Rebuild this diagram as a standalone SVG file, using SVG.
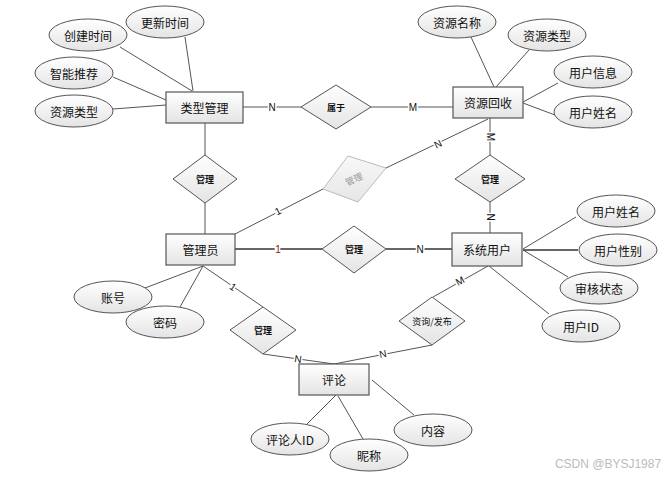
<svg xmlns="http://www.w3.org/2000/svg" width="672" height="477" viewBox="0 0 672 477">
<defs>
<linearGradient id="g" x1="0" y1="0" x2="0" y2="1">
<stop offset="0" stop-color="#ffffff"/>
<stop offset="1" stop-color="#e4e4e4"/>
</linearGradient>
<linearGradient id="gg" x1="0" y1="0" x2="0" y2="1">
<stop offset="0" stop-color="#f8f8f8"/>
<stop offset="1" stop-color="#e6e6e6"/>
</linearGradient>
</defs>
<style>
.ent{fill:url(#g);stroke:#555;stroke-width:1.2}
.att{fill:url(#g);stroke:#555;stroke-width:1}
.rel{fill:url(#g);stroke:#555;stroke-width:1}
.ln{stroke:#555;stroke-width:1;fill:none}
.lnb{stroke:#666;stroke-width:2;fill:none}
.t{font-family:"Noto Sans CJK SC","Microsoft YaHei",sans-serif;font-size:12px;fill:#111;text-anchor:middle;dominant-baseline:central}
.tr{font-family:"Noto Sans CJK SC",sans-serif;font-size:9px;font-weight:bold;fill:#111;text-anchor:middle;dominant-baseline:central}
.c{font-family:"Liberation Sans",Arial,sans-serif;font-size:10px;fill:#111;text-anchor:middle;dominant-baseline:central;stroke:#fff;stroke-width:3;paint-order:stroke}
.wm{font-family:"Liberation Sans",Arial,sans-serif;font-size:12px;fill:#bbb;text-anchor:middle;dominant-baseline:central}
</style>
<rect width="672" height="477" fill="#fff"/>
<g id="connectors">
<line class="ln" x1="120" y1="47" x2="192" y2="91"/>
<line class="ln" x1="185" y1="37" x2="193" y2="91"/>
<line class="ln" x1="113" y1="77" x2="166" y2="100"/>
<line class="ln" x1="113" y1="109" x2="166" y2="105"/>
<line class="ln" x1="243" y1="107" x2="301" y2="107"/>
<line class="ln" x1="371" y1="107" x2="453" y2="107"/>
<line class="ln" x1="205" y1="123" x2="205" y2="155"/>
<line class="ln" x1="205" y1="203" x2="205" y2="234"/>
<line class="ln" x1="471" y1="37" x2="494" y2="87"/>
<line class="ln" x1="529" y1="50" x2="496" y2="87"/>
<line class="ln" x1="558" y1="83" x2="523" y2="102"/>
<line class="ln" x1="523" y1="103" x2="555" y2="115" stroke-width="1.6"/>
<line class="ln" x1="490" y1="118" x2="490" y2="155"/>
<line class="ln" x1="490" y1="202" x2="490" y2="233"/>
<line class="ln" x1="235" y1="234" x2="323" y2="189"/>
<line class="ln" x1="386" y1="168" x2="488" y2="119"/>
<line class="lnb" x1="235" y1="249" x2="322" y2="249"/>
<line class="lnb" x1="386" y1="249" x2="452" y2="249"/>
<line class="ln" x1="523" y1="249" x2="576" y2="217"/>
<line class="lnb" x1="523" y1="250" x2="578" y2="250"/>
<line class="ln" x1="523" y1="250" x2="568" y2="277"/>
<line class="ln" x1="489" y1="266" x2="549" y2="314"/>
<line class="ln" x1="488" y1="266" x2="433" y2="297"/>
<line class="ln" x1="432" y1="345" x2="334" y2="364"/>
<line class="ln" x1="203" y1="266" x2="263" y2="307"/>
<line class="ln" x1="263" y1="354" x2="334" y2="364"/>
<line class="ln" x1="203" y1="266" x2="145" y2="288"/>
<line class="ln" x1="203" y1="266" x2="180" y2="307"/>
<line class="ln" x1="336" y1="395" x2="307" y2="424"/>
<line class="ln" x1="338" y1="396" x2="363" y2="439"/>
<line class="ln" x1="372" y1="380" x2="414" y2="415"/>
<text class="c" x="272" y="107">N</text>
<text class="c" x="413" y="107" fill="#1a2a6a">M</text>
<text class="c" transform="translate(490,137) rotate(90)">M</text>
<text class="c" transform="translate(490,217) rotate(90)">N</text>
<text class="c" transform="translate(278,211) rotate(-27)">1</text>
<text class="c" transform="translate(438,144) rotate(-26)">N</text>
<text class="c" x="278" y="249" style="fill:#7a2a00">1</text>
<text class="c" x="420" y="249">N</text>
<text class="c" transform="translate(460,281) rotate(-29)" font-size="8">M</text>
<text class="c" transform="translate(383,354) rotate(-11)" font-size="8">N</text>
<text class="c" transform="translate(233,287) rotate(34)" font-size="8">1</text>
<text class="c" transform="translate(298,359) rotate(8)" font-size="8">N</text>
</g>
<g id="e-leixing"><rect class="ent" x="166" y="92" width="77" height="31"/><text class="t" x="204.5" y="107.5">类型管理</text></g>
<g id="e-ziyuan"><rect class="ent" x="453" y="87" width="70" height="31"/><text class="t" x="488" y="102.5">资源回收</text></g>
<g id="e-admin"><rect class="ent" x="166" y="234" width="69" height="31"/><text class="t" x="200.5" y="249.5">管理员</text></g>
<g id="e-user"><rect class="ent" x="452" y="233" width="70" height="33"/><text class="t" x="487" y="249.5">系统用户</text></g>
<g id="e-pinglun"><rect class="ent" x="299" y="364" width="70" height="31"/><text class="t" x="334" y="379.5">评论</text></g>
<g id="r-shuyu"><polygon class="rel" points="336,85 371,107 336,129 301,107"/><text class="tr" x="336" y="107">属于</text></g>
<g id="r-guanli1"><polygon class="rel" points="205,155 237,179 205,203 173,179"/><text class="tr" x="205" y="179">管理</text></g>
<g id="r-guanli2"><polygon points="348,156 386,168 358,202 323,189" fill="url(#gg)" stroke="#bbb" stroke-width="1"/><text class="tr" transform="translate(354,179) rotate(-25)" style="fill:#999;font-weight:normal">管理</text></g>
<g id="r-guanli3"><polygon class="rel" points="354,226 386,249 354,273 322,249"/><text class="tr" x="354" y="249">管理</text></g>
<g id="r-guanli4"><polygon class="rel" points="490,155 525,179 490,202 455,179"/><text class="tr" x="490" y="179">管理</text></g>
<g id="r-guanli5"><polygon class="rel" points="263,307 296,330 263,354 230,330"/><text class="tr" x="263" y="330">管理</text></g>
<g id="r-zixun"><polygon class="rel" points="432,297 465,321 432,345 399,321"/><text class="tr" x="432" y="321" style="font-weight:normal">资询/发布</text></g>
<g id="a-chuangjian"><ellipse class="att" cx="88" cy="35" rx="39" ry="16"/><text class="t" x="88" y="35">创建时间</text></g>
<g id="a-gengxin"><ellipse class="att" cx="165" cy="22" rx="39" ry="16"/><text class="t" x="165" y="22">更新时间</text></g>
<g id="a-zhineng"><ellipse class="att" cx="74" cy="73" rx="39" ry="16"/><text class="t" x="74" y="73">智能推荐</text></g>
<g id="a-leixing1"><ellipse class="att" cx="74" cy="111" rx="39" ry="16"/><text class="t" x="74" y="111">资源类型</text></g>
<g id="a-mingcheng"><ellipse class="att" cx="457" cy="22" rx="39" ry="16"/><text class="t" x="457" y="22">资源名称</text></g>
<g id="a-leixing2"><ellipse class="att" cx="547" cy="35" rx="39" ry="16"/><text class="t" x="547" y="35">资源类型</text></g>
<g id="a-xinxi"><ellipse class="att" cx="593" cy="72" rx="39" ry="16"/><text class="t" x="593" y="72">用户信息</text></g>
<g id="a-xingming1"><ellipse class="att" cx="593" cy="112" rx="39" ry="16"/><text class="t" x="593" y="112">用户姓名</text></g>
<g id="a-xingming2"><ellipse class="att" cx="616" cy="211" rx="39" ry="16"/><text class="t" x="616" y="211">用户姓名</text></g>
<g id="a-xingbie"><ellipse class="att" cx="618" cy="250" rx="39" ry="16"/><text class="t" x="618" y="250">用户性别</text></g>
<g id="a-shenhe"><ellipse class="att" cx="599" cy="288" rx="39" ry="16"/><text class="t" x="599" y="288">审核状态</text></g>
<g id="a-userid"><ellipse class="att" cx="581" cy="326" rx="39" ry="16"/><text class="t" x="581" y="326">用户ID</text></g>
<g id="a-zhanghao"><ellipse class="att" cx="113" cy="297" rx="39" ry="16"/><text class="t" x="113" y="297">账号</text></g>
<g id="a-mima"><ellipse class="att" cx="165" cy="322" rx="39" ry="16"/><text class="t" x="165" y="322">密码</text></g>
<g id="a-pinglunren"><ellipse class="att" cx="290" cy="439" rx="39" ry="16"/><text class="t" x="290" y="439">评论人ID</text></g>
<g id="a-nicheng"><ellipse class="att" cx="369" cy="455" rx="39" ry="16"/><text class="t" x="369" y="455">昵称</text></g>
<g id="a-neirong"><ellipse class="att" cx="433" cy="430" rx="39" ry="16"/><text class="t" x="433" y="430">内容</text></g>
<text class="wm" x="608" y="464">CSDN @BYSJ1987</text>
</svg>
